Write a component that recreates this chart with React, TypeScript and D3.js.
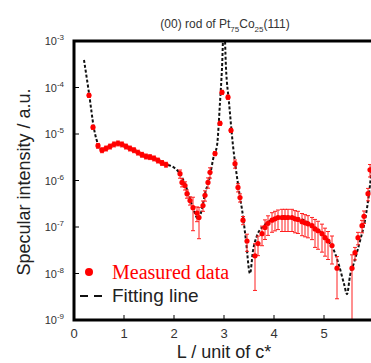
import * as d3 from "d3";
import React, { useEffect, useRef } from "react";

// measured specular intensity along the (00) rod
const measuredL = [
  0.3, 0.38, 0.48, 0.56, 0.64, 0.72, 0.8, 0.88, 0.96, 1.04, 1.12, 1.2, 1.28, 1.36, 1.44, 1.52, 1.6, 1.68, 1.76, 1.84,
  2.12, 2.16, 2.22, 2.26, 2.32, 2.38, 2.46, 2.5, 2.58, 2.62, 2.68, 2.72, 2.82, 2.92,
  2.96, 3.08, 3.14, 3.22, 3.28, 3.32, 3.38, 3.46,
  3.62, 3.68, 3.76, 3.82, 3.88, 3.96, 4.02, 4.08, 4.16, 4.22, 4.28, 4.36, 4.42, 4.48, 4.56, 4.62, 4.68, 4.76, 4.82,
  4.88, 4.96, 5.02, 5.08, 5.16,
  5.26, 5.56, 5.62, 5.68, 5.76, 5.8, 5.88, 5.92,
];
const measuredI = [
  6.8e-5, 1.4e-5, 5.6e-6, 4.5e-6, 4.9e-6, 5.4e-6, 6.0e-6, 6.3e-6, 6.0e-6, 5.4e-6, 4.9e-6, 4.5e-6, 4.0e-6, 3.6e-6,
  3.3e-6, 3.2e-6, 3.0e-6, 2.7e-6, 2.4e-6, 2.2e-6,
  1.4e-6, 9.1e-7, 7.8e-7, 5.2e-7, 3.7e-7, 2.6e-7, 2.0e-7, 1.6e-7, 2.9e-7, 4.8e-7, 9.1e-7, 1.5e-6, 3.8e-6, 1.7e-5,
  7.9e-5, 6.2e-5, 1.2e-5, 2.3e-6, 7.1e-7, 4.3e-7, 1.4e-7, 5.0e-8,
  2.4e-8, 4.4e-8, 7.2e-8, 9.8e-8, 1.2e-7, 1.4e-7, 1.5e-7, 1.6e-7, 1.6e-7, 1.6e-7, 1.6e-7, 1.6e-7, 1.5e-7, 1.45e-7,
  1.3e-7, 1.23e-7, 1.17e-7, 1.07e-7, 9.1e-8, 8.3e-8, 7.2e-8, 5.9e-8, 5.0e-8, 4.0e-8,
  1.3e-8, 1.3e-8, 2.8e-8, 5.9e-8, 1.07e-7, 1.7e-7, 5.2e-7, 1.7e-6,
];
// relative error (sigma / I) of each measured point
const measuredRelErr = [
  0.1, 0.1, 0.12, 0.12, 0.12, 0.12, 0.12, 0.12, 0.12, 0.12, 0.12, 0.12, 0.12, 0.12, 0.12, 0.12, 0.12, 0.12, 0.12, 0.12,
  0.2, 0.2, 0.2, 0.2, 0.2, 0.68, 0.35, 0.65, 0.25, 0.25, 0.25, 0.25, 0.1, 0.1,
  0.1, 0.1, 0.1, 0.2, 0.2, 0.2, 0.2, 0.4,
  0.82, 0.45, 0.45, 0.45, 0.45, 0.45, 0.45, 0.45, 0.5, 0.5, 0.5, 0.5, 0.5, 0.5, 0.5, 0.5, 0.5, 0.5, 0.6,
  0.6, 0.6, 0.6, 0.6, 0.6,
  0.78, 0.94, 0.3, 0.3, 0.3, 0.3, 0.3, 0.3,
];

// fitting curve
const fitL = [
  0.2, 0.3, 0.4, 0.5, 0.56, 0.65, 0.8, 0.9, 1.0, 1.2, 1.4, 1.6, 1.8, 2.0, 2.1, 2.2, 2.3, 2.4, 2.48, 2.55, 2.62, 2.7,
  2.8, 2.86, 2.92, 2.96, 3.0, 3.04, 3.1, 3.18, 3.24, 3.3, 3.38, 3.44, 3.52, 3.58, 3.66, 3.8, 4.0, 4.2, 4.4, 4.6, 4.8,
  5.0, 5.1, 5.2, 5.3, 5.4, 5.46, 5.52, 5.6, 5.72, 5.82, 5.92, 6.0,
];
const fitI = [
  3.9e-4, 7.6e-5, 1.3e-5, 5.4e-6, 4.5e-6, 4.9e-6, 6.0e-6, 6.3e-6, 5.7e-6, 4.5e-6, 3.5e-6, 3.0e-6, 2.3e-6, 1.9e-6,
  1.5e-6, 9.5e-7, 4.8e-7, 2.2e-7, 1.5e-7, 2.2e-7, 5.2e-7, 1.0e-6, 3.5e-6, 5.6e-6, 4.8e-5, 2.6e-4, 3e-3, 2.6e-4,
  4.8e-5, 5.6e-6, 1.7e-6, 6e-7, 1.7e-7, 5e-8, 1e-8, 3.1e-8, 6.5e-8, 1.07e-7, 1.5e-7, 1.7e-7, 1.6e-7, 1.4e-7, 1.0e-7,
  6.5e-8, 4.8e-8, 3.1e-8, 1.5e-8, 6e-9, 3.6e-9, 8.9e-9, 1.7e-8, 5e-8, 1.4e-7, 8e-7, 7.2e-6,
];

const xTicks = [0, 1, 2, 3, 4, 5];
const yTickExps = [-3, -4, -5, -6, -7, -8, -9];

const SANS = "'Liberation Sans', Arial, sans-serif";
const SERIF = "'Liberation Serif', 'Times New Roman', serif";

const App = () => {
  const svgRef = useRef<SVGSVGElement>(null);

  useEffect(() => {
    const W = 371,
      H = 363;
    const left = 74,
      top = 41,
      bottom = 320,
      right = 374;

    const svg = d3.select(svgRef.current).html("").attr("width", W).attr("height", H);

    const x = d3.scaleLinear().domain([0, 6]).range([left, right]);
    const y = d3.scaleLog().domain([1e-9, 1e-3]).range([bottom, top]);

    svg
      .append("defs")
      .append("clipPath")
      .attr("id", "plot-clip")
      .append("rect")
      .attr("x", left)
      .attr("y", top)
      .attr("width", right - left)
      .attr("height", bottom - top);

    const plot = svg.append("g").attr("clip-path", "url(#plot-clip)");

    // fitting line under the points
    const line = d3
      .line<number>()
      .x((d, i) => x(fitL[i]))
      .y((d) => y(d))
      .curve(d3.curveMonotoneX);

    plot
      .append("path")
      .datum(fitI)
      .attr("fill", "none")
      .attr("stroke", "#111")
      .attr("stroke-width", 2)
      .attr("stroke-dasharray", "3,2")
      .attr("d", line);

    const pts = measuredL.map((l, i) => ({ l, v: measuredI[i], e: measuredRelErr[i] * measuredI[i] }));

    // error bars
    const bars = plot.append("g").attr("stroke", "#ff2020").attr("stroke-width", 1);
    pts.forEach((d) => {
      const lo = Math.max(d.v - d.e, 1e-10);
      const hi = d.v + d.e;
      const cx = x(d.l);
      bars.append("line").attr("x1", cx).attr("x2", cx).attr("y1", y(hi)).attr("y2", y(lo));
      bars.append("line").attr("x1", cx - 2).attr("x2", cx + 2).attr("y1", y(hi)).attr("y2", y(hi));
      bars.append("line").attr("x1", cx - 2).attr("x2", cx + 2).attr("y1", y(lo)).attr("y2", y(lo));
    });

    plot
      .append("g")
      .selectAll("circle")
      .data(pts)
      .enter()
      .append("circle")
      .attr("cx", (d) => x(d.l))
      .attr("cy", (d) => y(d.v))
      .attr("r", 2.6)
      .attr("fill", "#ff0000");

    // ticks (inside)
    const axes = svg.append("g").attr("stroke", "#000").attr("stroke-width", 1);
    xTicks.forEach((t) => {
      axes.append("line").attr("x1", x(t)).attr("x2", x(t)).attr("y1", bottom).attr("y2", bottom - 5);
    });
    yTickExps.forEach((p) => {
      axes
        .append("line")
        .attr("x1", left)
        .attr("x2", left + 5)
        .attr("y1", y(Math.pow(10, p)))
        .attr("y2", y(Math.pow(10, p)));
    });

    // frame
    svg
      .append("path")
      .attr("d", `M${right},${top}H${left}V${bottom}H${right}`)
      .attr("fill", "none")
      .attr("stroke", "#000")
      .attr("stroke-width", 3);

    // tick labels
    svg
      .append("g")
      .selectAll("text")
      .data(xTicks)
      .enter()
      .append("text")
      .attr("x", (d) => x(d))
      .attr("y", 338)
      .attr("text-anchor", "middle")
      .attr("font-family", SANS)
      .attr("font-size", 13)
      .attr("fill", "#333")
      .text((d) => d);

    yTickExps.forEach((p) => {
      const t = svg
        .append("text")
        .attr("x", 64)
        .attr("y", y(Math.pow(10, p)) + 4)
        .attr("text-anchor", "end")
        .attr("font-family", SANS)
        .attr("font-size", 11)
        .attr("fill", "#333");
      t.append("tspan").text("10");
      t.append("tspan").attr("dy", -5).attr("font-size", 8).text(`-${-p}`);
    });

    // title
    const title = svg
      .append("text")
      .attr("x", 225)
      .attr("y", 28)
      .attr("text-anchor", "middle")
      .attr("font-family", SANS)
      .attr("font-size", 12)
      .attr("fill", "#333");
    title.append("tspan").text("(00) rod of Pt");
    title.append("tspan").attr("dy", 4).attr("font-size", 8).text("75");
    title.append("tspan").attr("dy", -4).text("Co");
    title.append("tspan").attr("dy", 4).attr("font-size", 8).text("25");
    title.append("tspan").attr("dy", -4).text("(111)");

    // axis labels
    svg
      .append("text")
      .attr("transform", `translate(30,182) rotate(-90)`)
      .attr("text-anchor", "middle")
      .attr("font-family", SANS)
      .attr("font-size", 18)
      .attr("fill", "#222")
      .text("Specular intensity / a.u.");

    svg
      .append("text")
      .attr("x", 224)
      .attr("y", 358)
      .attr("text-anchor", "middle")
      .attr("font-family", SANS)
      .attr("font-size", 18)
      .attr("fill", "#222")
      .text("L / unit of c*");

    // legend
    svg.append("circle").attr("cx", 89).attr("cy", 272).attr("r", 4).attr("fill", "#ff0000");
    svg
      .append("text")
      .attr("x", 112)
      .attr("y", 279)
      .attr("font-family", SERIF)
      .attr("font-size", 20)
      .attr("fill", "#ff0000")
      .text("Measured data");

    svg
      .append("line")
      .attr("x1", 80)
      .attr("x2", 106)
      .attr("y1", 296)
      .attr("y2", 296)
      .attr("stroke", "#111")
      .attr("stroke-width", 2)
      .attr("stroke-dasharray", "8,6");
    svg
      .append("text")
      .attr("x", 112)
      .attr("y", 302)
      .attr("font-family", SANS)
      .attr("font-size", 19)
      .attr("fill", "#222")
      .text("Fitting line");
  }, []);

  return (
    <div>
      <svg ref={svgRef} style={{ position: "absolute", left: 0, top: 0, background: "#fff" }} />
    </div>
  );
};

export default App;
